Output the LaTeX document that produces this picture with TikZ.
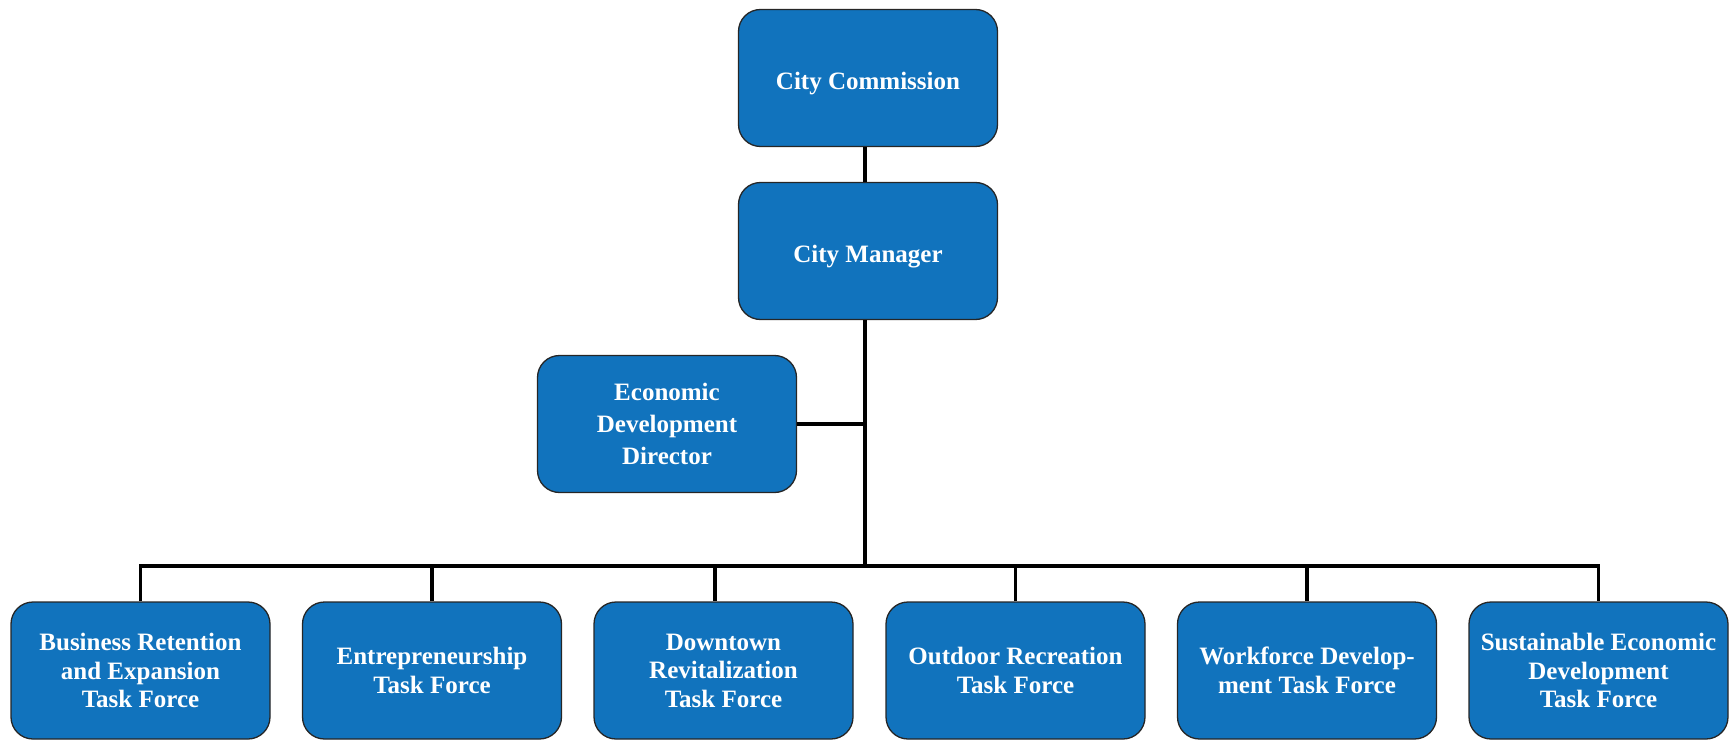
\documentclass[tikz,border=0pt]{standalone}
\usepackage{fontspec}
\setmainfont{Liberation Serif}
\begin{document}
\begin{tikzpicture}[x=1pt,y=-1pt,
  box/.style={draw=black!85, line width=1.3pt, fill={rgb,255:red,17;green,115;blue,189}, rounded corners=22pt,
    minimum width=259pt, minimum height=137pt, text=white, align=center,
    font=\bfseries\fontsize{25}{28.5}\selectfont, inner sep=2pt},
  conn/.style={line width=3.2pt, black}]
\useasboundingbox (0,0) rectangle (1730,741);
\node[box] (cc) at (868,78) {\raisebox{-5.5pt}[17pt][5pt]{City Commission}};
\node[box] (cm) at (868,251) {\raisebox{-5.5pt}[17pt][5pt]{City Manager}};
\node[box] (edd) at (667,424) {Economic\\[3.5pt]Development\\[3.5pt]Director};
\node[box] (b1) at (140.5,670.5) {Business Retention\\and Expansion\\Task Force};
\node[box] (b2) at (432,670.5) {Entrepreneurship\\Task Force};
\node[box] (b3) at (723.5,670.5) {Downtown\\Revitalization\\Task Force};
\node[box] (b4) at (1015.5,670.5) {Outdoor Recreation\\Task Force};
\node[box] (b5) at (1307,670.5) {Workforce Develop-\\ment Task Force};
\node[box] (b6) at (1598.5,670.5) {Sustainable Economic\\Development\\Task Force};
\coordinate (bus) at (865,566);
\draw[conn] (cc.south -| 865,0) -- (cm.north -| 865,0);
\draw[conn] (cm.south -| 865,0) -- (bus);
\draw[conn] (edd.east) -- (edd.east -| bus);
\draw[conn] (b1.north) |- (bus) -| (b6.north);
\draw[conn] (b2.north) -- (b2.north |- bus);
\draw[conn] (715,566) -- (b3.north -| 715,0);
\draw[conn] (b4.north) -- (b4.north |- bus);
\draw[conn] (b5.north) -- (b5.north |- bus);
\end{tikzpicture}
\end{document}
